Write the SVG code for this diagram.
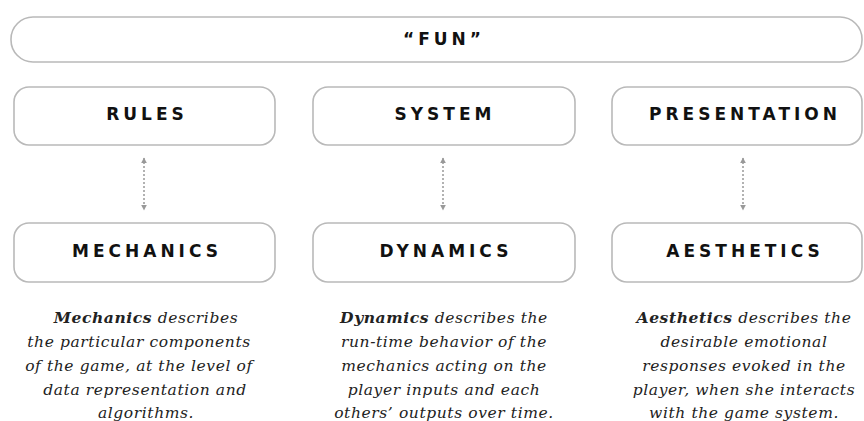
<svg xmlns="http://www.w3.org/2000/svg" width="864" height="421" viewBox="0 0 864 421">
<defs>
<style>
.box{fill:#fff;stroke:#b9b9b9;stroke-width:1.6}
.lbl{font-family:"DejaVu Sans","Liberation Sans",sans-serif;font-weight:bold;font-size:17px;letter-spacing:4px;fill:#111;text-anchor:middle}
.desc{font-family:"DejaVu Serif",serif;font-style:italic;font-size:15.5px;letter-spacing:0.6px;fill:#222;text-anchor:middle}
.desc .b{font-weight:bold}
.conn{stroke:#999;stroke-width:1.5;stroke-dasharray:2 2;fill:none}
</style>
<marker id="ah" viewBox="0 0 10 10" refX="9" refY="5" markerWidth="6" markerHeight="6" markerUnits="userSpaceOnUse" orient="auto-start-reverse">
<path d="M0,0 L10,5 L0,10 z" fill="#999"/>
</marker>
</defs>
<rect width="864" height="421" fill="#fff"/>
<g id="fun">
<rect class="box" x="11" y="17" width="851" height="45" rx="22"/>
<text class="lbl" x="444" y="45">“FUN”</text>
</g>
<g id="rules">
<rect class="box" x="14" y="87" width="261" height="58" rx="15"/>
<text class="lbl" x="147" y="120">RULES</text>
</g>
<g id="system">
<rect class="box" x="313" y="87" width="262" height="58" rx="15"/>
<text class="lbl" x="445" y="120">SYSTEM</text>
</g>
<g id="presentation">
<rect class="box" x="612" y="87" width="250" height="58" rx="15"/>
<text class="lbl" x="745" y="120">PRESENTATION</text>
</g>
<g id="mechanics">
<rect class="box" x="14" y="223" width="261" height="59" rx="15"/>
<text class="lbl" x="147" y="257">MECHANICS</text>
</g>
<g id="dynamics">
<rect class="box" x="313" y="223" width="262" height="59" rx="15"/>
<text class="lbl" x="446" y="257">DYNAMICS</text>
</g>
<g id="aesthetics">
<rect class="box" x="612" y="223" width="250" height="59" rx="15"/>
<text class="lbl" x="745" y="257">AESTHETICS</text>
</g>
<g id="connectors">
<line class="conn" x1="144" y1="158" x2="144" y2="210" marker-start="url(#ah)" marker-end="url(#ah)"/>
<line class="conn" x1="443" y1="158" x2="443" y2="210" marker-start="url(#ah)" marker-end="url(#ah)"/>
<line class="conn" x1="743" y1="158" x2="743" y2="210" marker-start="url(#ah)" marker-end="url(#ah)"/>
</g>
<g id="desc-mechanics" class="desc">
<text x="146" y="323"><tspan class="b">Mechanics</tspan> describes</text>
<text x="139" y="347">the particular components</text>
<text x="139" y="371">of the game, at the level of</text>
<text x="145" y="395">data representation and</text>
<text x="146" y="418">algorithms.</text>
</g>
<g id="desc-dynamics" class="desc">
<text x="444" y="323"><tspan class="b">Dynamics</tspan> describes the</text>
<text x="444" y="347">run-time behavior of the</text>
<text x="444" y="371">mechanics acting on the</text>
<text x="444" y="395">player inputs and each</text>
<text x="444" y="418">others’ outputs over time.</text>
</g>
<g id="desc-aesthetics" class="desc">
<text x="744" y="323"><tspan class="b">Aesthetics</tspan> describes the</text>
<text x="744" y="347">desirable emotional</text>
<text x="744" y="371">responses evoked in the</text>
<text x="744" y="395">player, when she interacts</text>
<text x="744" y="418">with the game system.</text>
</g>
</svg>
